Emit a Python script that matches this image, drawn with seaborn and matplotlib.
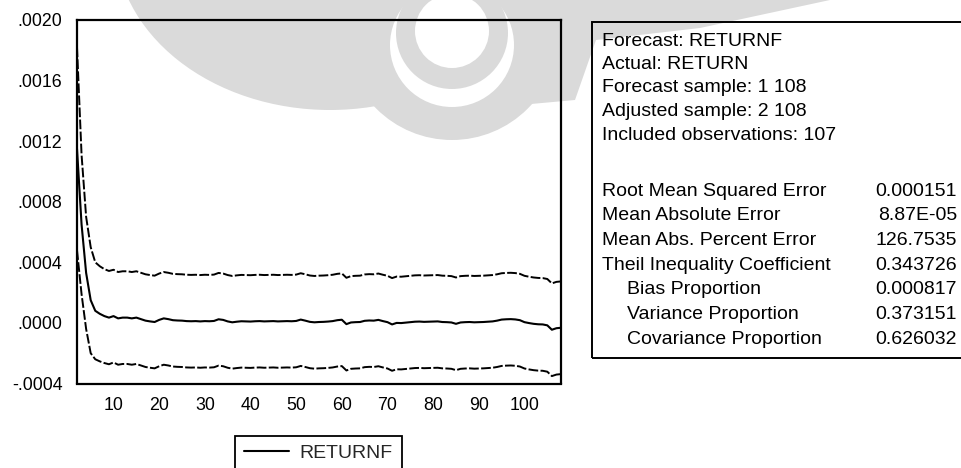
import numpy as np
import pandas as pd
import matplotlib
matplotlib.use("Agg")
import matplotlib.pyplot as plt
import seaborn as sns
from matplotlib.patches import Rectangle, Circle, Ellipse, Polygon
from matplotlib.transforms import Affine2D

# Forecast period (adjusted sample 2..108)
obs = list(range(2, 109))

# RETURNF dynamic forecast, in units of 1e-5
returnf_e5 = [
    115, 65, 33, 15, 8, 6, 4.5, 3.5, 4.5,            # 2-10
    3, 3.5, 3.5, 3, 3.5, 2.5, 1.5, 1, 0.6, 2,        # 11-20
    3, 2.5, 1.8, 1.6, 1.5, 1.2, 1.1, 1.2, 1.0, 1.2,  # 21-30
    1.1, 1.3, 2.4, 2.0, 1.0, 0.4, 0.8, 1.1, 1.0, 0.9,  # 31-40
    1.1, 1.2, 1.0, 1.1, 1.2, 1.0, 1.1, 1.2, 1.1, 1.3,  # 41-50
    2.2, 1.5, 0.7, 0.4, 0.6, 0.7, 0.9, 1.2, 1.8, 2.1,  # 51-60
    -0.8, 0.3, 0.5, 0.6, 1.4, 1.6, 1.5, 2.0, 1.2, 0.5,  # 61-70
    -1.0, 0.0, -0.1, 0.2, 0.5, 0.8, 0.9, 0.7, 0.8, 0.9,  # 71-80
    1.0, 0.6, 0.5, 0.3, -0.6, 0.3, 0.5, 0.6, 0.4, 0.5,  # 81-90
    0.6, 0.8, 1.0, 1.5, 2.2, 2.4, 2.5, 2.3, 1.8, 0.5,  # 91-100
    -0.1, -0.6, -0.9, -1.0, -1.6, -4.5, -3.5, -3.2,   # 101-108
]

# Forecast standard error, in units of 1e-5
se_e5 = [
    33.5, 23, 18.5, 17.5, 16, 15.7, 15.5, 15.4, 15.3,
    15.3, 15.3, 15.3, 15.3, 15.3, 15.3, 15.3, 15.3, 15.3, 15.3,
    15.3, 15.3, 15.3, 15.3, 15.3, 15.3, 15.3, 15.3, 15.3, 15.3,
    15.3, 15.3, 15.3, 15.3, 15.3, 15.3, 15.3, 15.3, 15.3, 15.3,
    15.3, 15.3, 15.3, 15.3, 15.3, 15.3, 15.3, 15.3, 15.3, 15.3,
    15.3, 15.3, 15.3, 15.3, 15.3, 15.3, 15.3, 15.3, 15.3, 15.3,
    15.3, 15.3, 15.3, 15.3, 15.3, 15.3, 15.3, 15.3, 15.3, 15.3,
    15.3, 15.3, 15.3, 15.3, 15.3, 15.3, 15.3, 15.3, 15.3, 15.3,
    15.3, 15.3, 15.3, 15.3, 15.3, 15.3, 15.3, 15.3, 15.3, 15.3,
    15.3, 15.3, 15.3, 15.3, 15.3, 15.3, 15.3, 15.3, 15.3, 15.3,
    15.3, 15.3, 15.3, 15.3, 15.3, 15.3, 15.3, 15.3,
]

x_ticks = [10, 20, 30, 40, 50, 60, 70, 80, 90, 100]
y_ticks = [-0.0004, 0.0, 0.0004, 0.0008, 0.0012, 0.0016, 0.0020]
y_tick_labels = ["-.0004", ".0000", ".0004", ".0008", ".0012", ".0016", ".0020"]

header_lines = [
    "Forecast: RETURNF",
    "Actual: RETURN",
    "Forecast sample: 1 108",
    "Adjusted sample: 2 108",
    "Included observations: 107",
]
stat_names = [
    "Root Mean Squared Error",
    "Mean Absolute Error",
    "Mean Abs. Percent Error",
    "Theil Inequality Coefficient",
    "Bias Proportion",
    "Variance Proportion",
    "Covariance Proportion",
]
stat_values = ["0.000151", "8.87E-05", "126.7535", "0.343726",
               "0.000817", "0.373151", "0.626032"]
stat_indent = [False, False, False, False, True, True, True]

sns.set_style("white")
plt.rcParams["font.family"] = ["Liberation Sans", "DejaVu Sans"]

W, H = 962, 468
fig = plt.figure(figsize=(W / 100, H / 100), dpi=100)
fig.patch.set_facecolor("white")

# pixel coordinates (origin top-left) -> figure fraction
pix = Affine2D().scale(1 / W, -1 / H).translate(0, 1) + fig.transFigure


def fx(px):
    return px / W


def fy(py):
    return 1 - py / H


# Faint emblem printed behind the page content
mark = "#dadada"
emblem = [
    Ellipse((330, -60), 430, 340, color=mark),
    Polygon([(520, 0), (520, 105), (575, 100), (596, 40), (700, 28),
             (830, 0)], closed=True, color=mark),
    Circle((452, 33), 107, color=mark),
    Circle((452, 45), 62, color="white"),
    Circle((452, 33), 56, color=mark),
    Circle((452, 31), 37, color="white"),
]
for p in emblem:
    p.set_transform(pix)
    p.set_zorder(-10)
    p.set_linewidth(0)
    fig.patches.append(p)

ax = fig.add_axes([fx(77), fy(383.5), fx(561) - fx(77), fy(20) - fy(383.5)])
ax.set_facecolor("none")

df = pd.DataFrame({"obs": obs,
                   "RETURNF": np.array(returnf_e5) * 1e-5,
                   "se": np.array(se_e5) * 1e-5})
df["upper"] = df["RETURNF"] + 2 * df["se"]
df["lower"] = df["RETURNF"] - 2 * df["se"]

dash = (0, (5, 1.2))
sns.lineplot(data=df, x="obs", y="upper", ax=ax, color="black",
             linewidth=1.4, linestyle=dash, legend=False)
sns.lineplot(data=df, x="obs", y="lower", ax=ax, color="black",
             linewidth=1.4, linestyle=dash, legend=False)
sns.lineplot(data=df, x="obs", y="RETURNF", ax=ax, color="black",
             linewidth=1.5, legend=False)

ax.set_xlim(2, 108)
ax.set_ylim(-0.0004, 0.0020)
ax.set_xticks(x_ticks)
ax.set_xticklabels([str(t) for t in x_ticks])
ax.set_yticks(y_ticks)
ax.set_yticklabels(y_tick_labels)
ax.set_xlabel("")
ax.set_ylabel("")
for s in ax.spines.values():
    s.set_color("black")
    s.set_linewidth(1.6)
ax.tick_params(axis="y", direction="out", length=5.5, width=1.3,
               colors="black", labelsize=12.8, pad=5)
ax.tick_params(axis="x", direction="out", length=4, width=1.3,
               colors="black", labelsize=12.8, pad=6)

# Legend below the plot, its lower edge running past the figure border
line_handle = ax.lines[-1]
leg = fig.legend([line_handle], ["RETURNF"], loc="lower center",
                 bbox_to_anchor=(fx(318.5), fy(471)), borderaxespad=0,
                 frameon=True, fancybox=False, edgecolor="black",
                 framealpha=1, fontsize=14, handlelength=2.3,
                 handletextpad=0.55, borderpad=0.45)
leg.get_frame().set_linewidth(1.3)

# Statistics panel
fig.patches.append(Rectangle((fx(592), fy(358)), fx(975) - fx(592),
                             fy(22) - fy(358), transform=fig.transFigure,
                             fill=False, edgecolor="black", linewidth=1.4,
                             clip_on=False))

y0 = 41
for i, t in enumerate(header_lines):
    fig.text(fx(602), fy(y0 + i * 23.5), t, fontsize=14, va="center",
             ha="left", color="black")

y1 = 191
for i, (name, val, ind) in enumerate(zip(stat_names, stat_values, stat_indent)):
    yy = fy(y1 + i * 24.7)
    fig.text(fx(627 if ind else 602), yy, name, fontsize=14, va="center",
             ha="left", color="black")
    fig.text(fx(957), yy, val, fontsize=14, va="center", ha="right",
             color="black")

fig.savefig("out.png", dpi=100, facecolor="white")
